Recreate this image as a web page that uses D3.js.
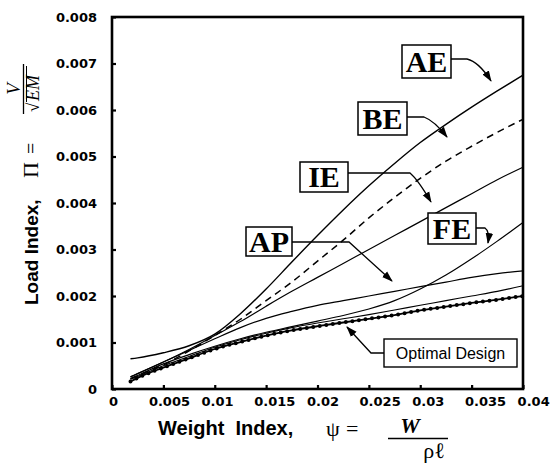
<!DOCTYPE html>
<html>
<head>
<meta charset="utf-8">
<script src="https://cdn.jsdelivr.net/npm/d3@7"></script>
<style>
body { margin: 0; background: #fff; }
</style>
</head>
<body>
<script>
var w = 552;
var h = 466;

// weight index values (x)
var weight = [0.0018, 0.0025, 0.005, 0.0075, 0.01, 0.0125, 0.015, 0.0175, 0.02,
              0.0225, 0.025, 0.0275, 0.03, 0.0325, 0.035, 0.0375, 0.04];

// load index for each design
var AE  = [0.00065, 0.00067, 0.00078, 0.00093, 0.00118, 0.00162, 0.00215, 0.00273, 0.0033,
           0.00385, 0.00437, 0.00485, 0.0053, 0.00569, 0.00606, 0.00641, 0.00675];
var BE  = [0.00022, 0.00029, 0.00052, 0.00082, 0.00115, 0.0015, 0.0019, 0.0023, 0.00275,
           0.0032, 0.00368, 0.00412, 0.00453, 0.0049, 0.00522, 0.00552, 0.0058];
var IE  = [0.00026, 0.00033, 0.00058, 0.00085, 0.00115, 0.00145, 0.00178, 0.0021, 0.0024,
           0.0027, 0.003, 0.0033, 0.0036, 0.0039, 0.0042, 0.0045, 0.00477];
var AP  = [0.00026, 0.00033, 0.00058, 0.00083, 0.00108, 0.00132, 0.00152, 0.00167, 0.0018,
           0.0019, 0.002, 0.0021, 0.0022, 0.0023, 0.0024, 0.00248, 0.00254];
var FE  = [0.00022, 0.00029, 0.00054, 0.00074, 0.00092, 0.00108, 0.00122, 0.00134, 0.00146,
           0.00158, 0.00172, 0.0019, 0.00215, 0.00245, 0.0028, 0.00318, 0.00358];
var other = [0.00021, 0.00027, 0.0005, 0.0007, 0.0009, 0.00106, 0.0012, 0.00132, 0.00142,
             0.00151, 0.0016, 0.0017, 0.0018, 0.0019, 0.002, 0.0021, 0.00222];
var optimal = [0.00016, 0.00024, 0.00046, 0.00066, 0.00086, 0.00101, 0.00115, 0.00126, 0.00135,
               0.00143, 0.00151, 0.00159, 0.00169, 0.00177, 0.00185, 0.00192, 0.002];

var xTicks = [0, 0.005, 0.01, 0.015, 0.02, 0.025, 0.03, 0.035, 0.04];
var xTickLabels = ["0", "0.005", "0.01", "0.015", "0.02", "0.025", "0.03", "0.035", "0.04"];
var yTicks = [0, 0.001, 0.002, 0.003, 0.004, 0.005, 0.006, 0.007, 0.008];
var yTickLabels = ["0", "0.001", "0.002", "0.003", "0.004", "0.005", "0.006", "0.007", "0.008"];

var svg = d3.select("body").append("svg")
            .attr("width", w)
            .attr("height", h);

var x = d3.scaleLinear().domain([0, 0.04]).range([112, 523]);
var y = d3.scaleLinear().domain([0, 0.008]).range([389, 17]);

// arrow head
svg.append("defs").append("marker")
   .attr("id", "arrow")
   .attr("markerUnits", "userSpaceOnUse")
   .attr("markerWidth", 12)
   .attr("markerHeight", 10)
   .attr("viewBox", "0 -5 12 10")
   .attr("refX", 10)
   .attr("refY", 0)
   .attr("orient", "auto")
   .append("path")
   .attr("d", "M0,-3.8L11,0L0,3.8Z")
   .attr("fill", "black");

// axes
var xAxis = svg.append("g")
   .attr("transform", "translate(0,389)")
   .call(d3.axisBottom(x).tickValues(xTicks).tickSize(-4).tickPadding(8)
          .tickFormat(function(d, i) { return xTickLabels[i]; }));
xAxis.selectAll("text")
   .attr("text-anchor", function(d, i) { return i == 0 ? "middle" : "start"; })
   .attr("dx", function(d, i) { return i == 0 ? 1 : -15 + (i - 1) * 1.3; });

var yAxis = svg.append("g")
   .attr("transform", "translate(112,0)")
   .call(d3.axisLeft(y).tickValues(yTicks).tickSize(-4).tickPadding(15)
          .tickFormat(function(d, i) { return yTickLabels[i]; }));

svg.selectAll(".domain").remove();
svg.selectAll(".tick line").attr("stroke", "black").attr("stroke-width", 2.2);
svg.selectAll(".tick text")
   .attr("font-family", "'DejaVu Sans', Arial, sans-serif")
   .attr("font-weight", "bold")
   .attr("font-size", 13)
   .attr("fill", "black");

// curves
var line = d3.line()
   .x(function(d, i) { return x(weight[i]); })
   .y(function(d) { return y(d); })
   .curve(d3.curveMonotoneX);

function curve(data, width, dash) {
  svg.append("path")
     .attr("d", line(data))
     .attr("fill", "none")
     .attr("stroke", "black")
     .attr("stroke-width", width)
     .attr("stroke-dasharray", dash);
}
curve(other, 1.1, null);
curve(FE, 1.2, null);
curve(AP, 1.2, null);
curve(IE, 1.2, null);
curve(BE, 1.5, "7,5");
curve(AE, 1.4, null);
curve(optimal, 1.8, null);
// dots of the optimal design line
svg.append("path")
   .attr("d", line(optimal))
   .attr("fill", "none")
   .attr("stroke", "black")
   .attr("stroke-width", 4)
   .attr("stroke-linecap", "round")
   .attr("stroke-dasharray", "0,6.6");

// frame
svg.append("rect")
   .attr("x", 112)
   .attr("y", 17)
   .attr("width", 411)
   .attr("height", 372)
   .attr("fill", "none")
   .attr("stroke", "black")
   .attr("stroke-width", 2.6);

// boxed labels
var labels = [
  {t: "AE", x: 402, y: 45, w: 49, h: 33},
  {t: "BE", x: 358, y: 102, w: 49, h: 33},
  {t: "IE", x: 300, y: 162, w: 48, h: 30},
  {t: "AP", x: 246, y: 227, w: 46, h: 29},
  {t: "FE", x: 428, y: 213, w: 48, h: 31}
];
var leaders = [
  "M451,59H467C476,61 484,70 491,81",
  "M407,117H424C432,120 440,128 447,137",
  "M348,173H410C416,178 424,190 431,202",
  "M292,242H349L392,281",
  "M476,228H485C488,230 489,236 488,243",
  "M384,353H371L347,327"
];

leaders.forEach(function(d) {
  svg.append("path")
     .attr("d", d)
     .attr("fill", "none")
     .attr("stroke", "black")
     .attr("stroke-width", 1.3)
     .attr("marker-end", "url(#arrow)");
});

labels.forEach(function(l) {
  svg.append("rect")
     .attr("x", l.x).attr("y", l.y)
     .attr("width", l.w).attr("height", l.h)
     .attr("fill", "white")
     .attr("stroke", "black")
     .attr("stroke-width", 1.5);
  svg.append("text")
     .attr("x", l.x + l.w / 2)
     .attr("y", l.y + l.h / 2 + 10)
     .attr("text-anchor", "middle")
     .attr("font-family", "'Liberation Serif', 'Times New Roman', serif")
     .attr("font-weight", "bold")
     .attr("font-size", 30)
     .text(l.t);
});

svg.append("rect")
   .attr("x", 384).attr("y", 339)
   .attr("width", 133).attr("height", 28)
   .attr("fill", "white")
   .attr("stroke", "black")
   .attr("stroke-width", 1.4);
svg.append("text")
   .attr("x", 450.5).attr("y", 359)
   .attr("text-anchor", "middle")
   .attr("font-family", "'Liberation Sans', Arial, sans-serif")
   .attr("font-size", 16)
   .text("Optimal Design");

// x axis title
var serif = "'Liberation Serif', 'Times New Roman', serif";
svg.append("text")
   .attr("x", 158).attr("y", 435)
   .attr("font-family", "'Liberation Sans', Arial, sans-serif")
   .attr("font-weight", "bold")
   .attr("font-size", 20)
   .style("white-space", "pre")
   .text("Weight  Index,");
svg.append("text").attr("x", 326).attr("y", 436)
   .attr("font-family", serif).attr("font-size", 22).text("ψ");
svg.append("text").attr("x", 346).attr("y", 436)
   .attr("font-family", serif).attr("font-size", 22).text("=");
svg.append("text").attr("x", 410).attr("y", 433)
   .attr("text-anchor", "middle")
   .attr("font-family", serif).attr("font-style", "italic").attr("font-weight", "bold")
   .attr("font-size", 22).text("W");
svg.append("line")
   .attr("x1", 388).attr("x2", 448)
   .attr("y1", 438.5).attr("y2", 438.5)
   .attr("stroke", "black").attr("stroke-width", 1.5);
svg.append("text").attr("x", 434).attr("y", 458)
   .attr("text-anchor", "middle")
   .attr("font-family", serif).attr("font-size", 22).text("ρℓ");

// y axis title
var yt = svg.append("g").attr("transform", "translate(38,305) rotate(-90)");
yt.append("text")
  .attr("x", 0).attr("y", 0)
  .attr("font-family", "'Liberation Sans', Arial, sans-serif")
  .attr("font-weight", "bold")
  .attr("font-size", 19)
  .text("Load Index,");
yt.append("text").attr("x", 127).attr("y", 0)
  .attr("font-family", serif).attr("font-size", 22).text("Π");
yt.append("text").attr("x", 151).attr("y", 0)
  .attr("font-family", serif).attr("font-size", 20).text("=");
yt.append("line")
  .attr("x1", 191).attr("x2", 241)
  .attr("y1", -14.5).attr("y2", -14.5)
  .attr("stroke", "black").attr("stroke-width", 1.3);
yt.append("text").attr("x", 216).attr("y", -18)
  .attr("text-anchor", "middle")
  .attr("font-family", serif).attr("font-style", "italic")
  .attr("font-size", 19).text("V");
yt.append("text").attr("x", 193).attr("y", 1)
  .attr("font-family", serif).attr("font-size", 17).text("√");
yt.append("text").attr("x", 204).attr("y", 1)
  .attr("font-family", serif).attr("font-style", "italic")
  .attr("font-size", 18).text("EM");
yt.append("line")
  .attr("x1", 203).attr("x2", 239)
  .attr("y1", -11.5).attr("y2", -11.5)
  .attr("stroke", "black").attr("stroke-width", 1);
</script>
</body>
</html>
